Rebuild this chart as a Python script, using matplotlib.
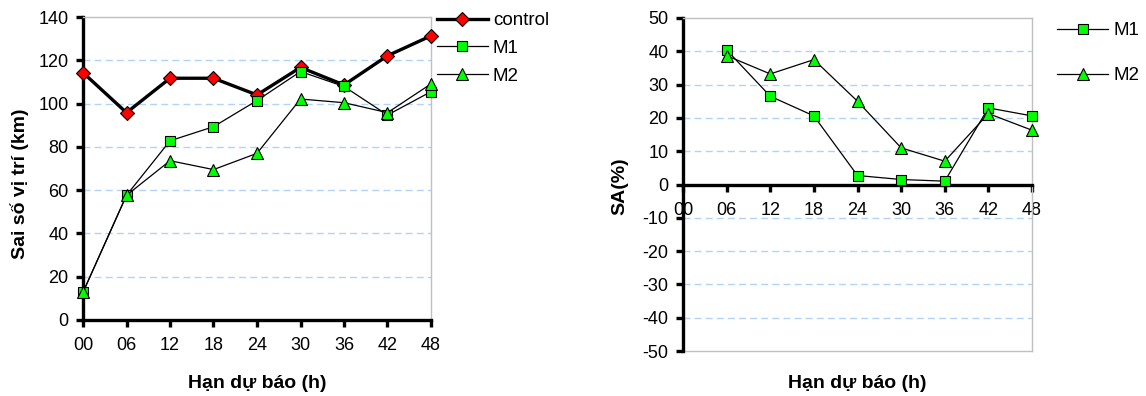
import matplotlib
matplotlib.use("Agg")
import matplotlib.pyplot as plt

plt.rcParams['font.family'] = ['Liberation Sans', 'DejaVu Sans']
plt.rcParams['axes.unicode_minus'] = False

# ---- data ----
hours = ["00", "06", "12", "18", "24", "30", "36", "42", "48"]
control = [114.3, 95.8, 111.7, 111.7, 104.0, 116.7, 108.6, 122.1, 131.3]
m1_err = [12.8, 57.6, 82.8, 89.3, 101.4, 114.8, 107.9, 94.7, 105.5]
m2_err = [12.8, 57.6, 73.6, 69.5, 77.0, 102.1, 100.4, 95.8, 109.1]

sa_hours = ["06", "12", "18", "24", "30", "36", "42", "48"]
m1_sa = [40.4, 26.5, 20.6, 2.7, 1.5, 1.0, 23.0, 20.6]
m2_sa = [38.7, 33.2, 37.5, 25.0, 11.0, 7.0, 21.3, 16.3]

left_yticks = [0, 20, 40, 60, 80, 100, 120, 140]
right_yticks = [-50, -40, -30, -20, -10, 0, 10, 20, 30, 40, 50]

RED = "#ff0000"
GREEN = "#00ff00"
GRID = "#b3d3f5"
BOX = "#c0c0c0"
TICK_FS = 13
LEG_FS = 13.5
LABEL_FS = 14

W, H = 1146, 396
fig = plt.figure(figsize=(W / 100, H / 100), dpi=100)
axL = fig.add_axes([83 / W, 1 - 320 / H, (431 - 83) / W, (320 - 17) / H])
axR = fig.add_axes([683 / W, 1 - 351 / H, (1032 - 683) / W, (351 - 18) / H])

xpos = list(range(len(hours)))
sa_pos = [hours.index(h) for h in sa_hours]


def style_axes(ax):
    for s in ("top", "right"):
        ax.spines[s].set_color(BOX)
        ax.spines[s].set_linewidth(1.0)
    for s in ("left", "bottom"):
        ax.spines[s].set_color("black")
        ax.spines[s].set_linewidth(2.4)
    ax.tick_params(axis="both", direction="out", length=5, width=2.4, labelsize=TICK_FS, color="black")
    ax.tick_params(axis="x", pad=7.5)
    ax.tick_params(axis="y", pad=5.5)
    ax.set_xticks(xpos)
    ax.set_xticklabels(hours)
    ax.set_xlim(0, len(hours) - 1)


# ---- left chart ----
style_axes(axL)
axL.set_ylim(0, 140)
axL.set_yticks(left_yticks)
for v in left_yticks[1:-1]:
    axL.axhline(v, color=GRID, lw=1.0, ls=(0, (5, 3)), zorder=0)

axL.plot(xpos, control, color="black", lw=2.4, marker="D", ms=7, mfc=RED, mec="black", mew=0.8,
         label="control", clip_on=False, zorder=3)
axL.plot(xpos, m1_err, color="black", lw=0.9, marker="s", ms=7, mfc=GREEN, mec="black", mew=0.8,
         label="M1", clip_on=False, zorder=4)
axL.plot(xpos, m2_err, color="black", lw=0.9, marker="^", ms=9, mfc=GREEN, mec="black", mew=0.8,
         label="M2", clip_on=False, zorder=5)

axL.set_ylabel("Sai số vị trí (km)", fontsize=LABEL_FS, fontweight="bold", va="center")
axL.yaxis.set_label_coords((20 - 83) / 348, (320 - 184) / 303)
fig.text(257 / W, 1 - 383 / H, "Hạn dự báo (h)", fontsize=LABEL_FS,
         fontweight="bold", ha="center", va="center")
axL.legend(loc="upper left", bbox_to_anchor=(1.017, 1.016), frameon=False, fontsize=LEG_FS,
           borderaxespad=0, borderpad=0, handlelength=2.72, handletextpad=0.27, labelspacing=0.56)

# ---- right chart ----
style_axes(axR)
axR.set_ylim(-50, 50)
axR.set_yticks(right_yticks)
axR.spines["bottom"].set_position(("data", 0))
axR.axhline(-50, color=BOX, lw=1.0, zorder=0, clip_on=False)
for v in right_yticks[1:-1]:
    if v != 0:
        axR.axhline(v, color=GRID, lw=1.0, ls=(0, (5, 3)), zorder=0)

axR.plot(sa_pos, m1_sa, color="black", lw=0.9, marker="s", ms=7, mfc=GREEN, mec="black", mew=0.8,
         label="M1", clip_on=False, zorder=4)
axR.plot(sa_pos, m2_sa, color="black", lw=0.9, marker="^", ms=9, mfc=GREEN, mec="black", mew=0.8,
         label="M2", clip_on=False, zorder=5)

axR.set_ylabel("SA(%)", fontsize=LABEL_FS, fontweight="bold", va="center")
axR.yaxis.set_label_coords((620 - 683) / 349, (351 - 186) / 333)
fig.text(857.5 / W, 1 - 383 / H, "Hạn dự báo (h)", fontsize=LABEL_FS,
         fontweight="bold", ha="center", va="center")
axR.legend(loc="upper left", bbox_to_anchor=(1.072, 0.987), frameon=False, fontsize=LEG_FS,
           borderaxespad=0, borderpad=0, handlelength=2.72, handletextpad=0.27, labelspacing=1.47)

fig.savefig("out.png", dpi=100)
